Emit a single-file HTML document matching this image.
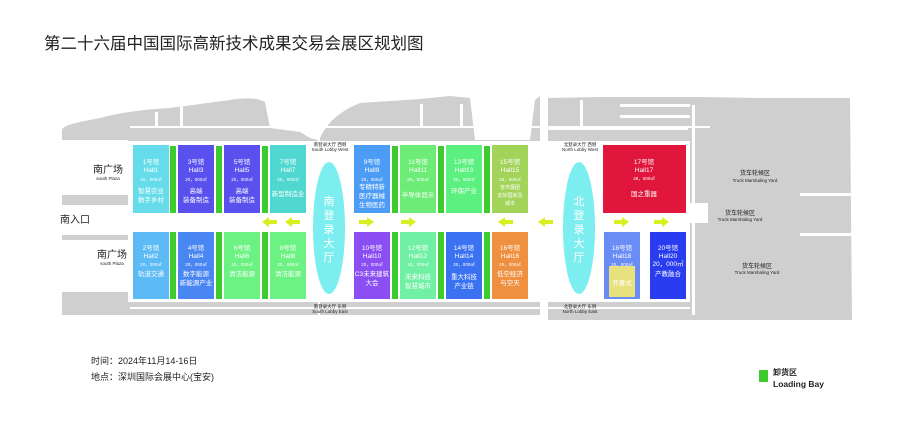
<!DOCTYPE html>
<html><head><meta charset="utf-8"><style>
html,body{margin:0;padding:0;background:#fff;}
svg{display:block;font-family:"Liberation Sans","Noto Sans CJK SC",sans-serif;}
</style></head><body>
<svg width="900" height="431" viewBox="0 0 900 431" xmlns="http://www.w3.org/2000/svg">
<rect width="900" height="431" fill="#fff"/>
<text x="44" y="49" font-size="16.5" fill="#222">第二十六届中国国际高新技术成果交易会展区规划图</text>

<g fill="#cfcfcf">
<path d="M62 130 Q62 125 90 120 L100 118 Q130 110 170 108 L230 100 Q255 96 265 102 L270 128 L300 132 L310 138 L318 140 L318 315 L62 315 Z"/>
<path d="M320 138 Q330 115 360 103 L420 99 L450 96 L470 98 L475 140 L530 140 L535 100 L540 96 L540 315 L320 315 Z"/>
<path d="M548 98 L600 97 L700 97 L760 98 L850 98 L852 320 L548 320 Z"/>
</g>
<g fill="#fff">
<rect x="128" y="141" width="562" height="161"/>
<rect x="62" y="140" width="66" height="55"/>
<rect x="62" y="240" width="66" height="52"/>
<rect x="62" y="205" width="70" height="30"/>
<rect x="540" y="95" width="8" height="230"/>
<rect x="300" y="90" width="20" height="40"/>
<rect x="688" y="203" width="20" height="20"/>
<rect x="130" y="126" width="580" height="2"/>
<rect x="130" y="307" width="560" height="2"/>
<rect x="548" y="128" width="140" height="2"/>
<rect x="692" y="105" width="3" height="210"/>
<rect x="800" y="193" width="52" height="3"/>
<rect x="800" y="233" width="52" height="3"/>
<rect x="155" y="112" width="3" height="15"/>
<rect x="270" y="104" width="3" height="22"/>
<rect x="180" y="104" width="3" height="22"/>
<rect x="580" y="100" width="3" height="28"/>
<rect x="620" y="104" width="70" height="3"/>
<rect x="620" y="115" width="70" height="3"/>
<rect x="420" y="104" width="3" height="22"/>
<rect x="460" y="104" width="3" height="22"/>
<rect x="500" y="104" width="3" height="22"/>
</g>

<ellipse cx="329" cy="228" rx="16" ry="66" fill="#7deef0"/>
<ellipse cx="579" cy="228" rx="16" ry="66" fill="#7deef0"/>
<g font-size="11" fill="#fff" text-anchor="middle">
<text x="329" y="205">南</text><text x="329" y="219">登</text><text x="329" y="233">录</text><text x="329" y="247">大</text><text x="329" y="261">厅</text>
<text x="579" y="205">北</text><text x="579" y="219">登</text><text x="579" y="233">录</text><text x="579" y="247">大</text><text x="579" y="261">厅</text>
</g>
<g font-size="4.5" fill="#222" text-anchor="middle">
<text x="330" y="146">南登录大厅 西侧</text><text x="330" y="151">South Lobby West</text>
<text x="330" y="308">南登录大厅 东侧</text><text x="330" y="313">South Lobby East</text>
<text x="580" y="146">北登录大厅 西侧</text><text x="580" y="151">North Lobby West</text>
<text x="580" y="308">北登录大厅 东侧</text><text x="580" y="313">North Lobby East</text>
</g>

<g fill="#3ccc2e">
<rect x="170" y="146" width="6" height="67"/><rect x="216" y="146" width="6" height="67"/><rect x="262" y="146" width="6" height="67"/>
<rect x="170" y="232" width="6" height="67"/><rect x="216" y="232" width="6" height="67"/><rect x="262" y="232" width="6" height="67"/>
<rect x="392" y="146" width="6" height="67"/><rect x="438" y="146" width="6" height="67"/><rect x="484" y="146" width="6" height="67"/>
<rect x="392" y="232" width="6" height="67"/><rect x="438" y="232" width="6" height="67"/><rect x="484" y="232" width="6" height="67"/>
</g>

<g>
<rect x="133" y="145" width="36" height="68" fill="#66dcea"/>
<rect x="178" y="145" width="36" height="68" fill="#5a50ee"/>
<rect x="224" y="145" width="36" height="68" fill="#5a50ee"/>
<rect x="270" y="145" width="36" height="68" fill="#50d8d0"/>
<rect x="133" y="232" width="36" height="67" fill="#5cbaf5"/>
<rect x="178" y="232" width="36" height="67" fill="#4a86f2"/>
<rect x="224" y="232" width="36" height="67" fill="#6cf282"/>
<rect x="270" y="232" width="36" height="67" fill="#6cf282"/>
<rect x="354" y="145" width="36" height="68" fill="#4c9cf6"/>
<rect x="400" y="145" width="36" height="68" fill="#6eec78"/>
<rect x="446" y="145" width="36" height="68" fill="#5cf080"/>
<rect x="492" y="145" width="36" height="68" fill="#a2d45a"/>
<rect x="354" y="232" width="36" height="67" fill="#8a4ef2"/>
<rect x="400" y="232" width="36" height="67" fill="#70f0a4"/>
<rect x="446" y="232" width="36" height="67" fill="#3a72f2"/>
<rect x="492" y="232" width="36" height="67" fill="#ee9040"/>
<rect x="603" y="145" width="83" height="68" fill="#e0163c"/>
<rect x="604" y="232" width="36" height="67" fill="#6a8cf5"/>
<rect x="650" y="232" width="36" height="67" fill="#2a3cf0"/>
<rect x="609" y="266" width="26" height="31" fill="#e8e27e"/>
</g>
<g font-size="6.5" fill="#fff" text-anchor="middle">
<text x="151" y="164">1号馆</text><text x="151" y="172">Hall1</text><text x="151" y="181" font-size="4.5">20，000㎡</text><text x="151" y="193">智慧农业</text><text x="151" y="202">数字乡村</text>
<text x="196" y="164">3号馆</text><text x="196" y="172">Hall3</text><text x="196" y="181" font-size="4.5">20，000㎡</text><text x="196" y="193">高端</text><text x="196" y="202">装备制造</text>
<text x="242" y="164">5号馆</text><text x="242" y="172">Hall5</text><text x="242" y="181" font-size="4.5">20，000㎡</text><text x="242" y="193">高端</text><text x="242" y="202">装备制造</text>
<text x="288" y="164">7号馆</text><text x="288" y="172">Hall7</text><text x="288" y="181" font-size="4.5">20，000㎡</text><text x="288" y="196">新型制造业</text>
<text x="151" y="250">2号馆</text><text x="151" y="258">Hall2</text><text x="151" y="266" font-size="4.5">20，000㎡</text><text x="151" y="276">轨道交通</text>
<text x="196" y="250">4号馆</text><text x="196" y="258">Hall4</text><text x="196" y="266" font-size="4.5">20，000㎡</text><text x="196" y="276">数字能源</text><text x="196" y="285">新能源产业</text>
<text x="242" y="250">6号馆</text><text x="242" y="258">Hall6</text><text x="242" y="266" font-size="4.5">20，000㎡</text><text x="242" y="276">清洁能源</text>
<text x="288" y="250">8号馆</text><text x="288" y="258">Hall8</text><text x="288" y="266" font-size="4.5">20，000㎡</text><text x="288" y="276">清洁能源</text>
<text x="372" y="164">9号馆</text><text x="372" y="172">Hall9</text><text x="372" y="181" font-size="4.5">20，000㎡</text><text x="372" y="189">专精特新</text><text x="372" y="198">医疗器械</text><text x="372" y="207">生物医药</text>
<text x="418" y="164">11号馆</text><text x="418" y="172">Hall11</text><text x="418" y="181" font-size="4.5">20，000㎡</text><text x="418" y="197">半导体显示</text>
<text x="464" y="164">13号馆</text><text x="464" y="172">Hall13</text><text x="464" y="181" font-size="4.5">20，000㎡</text><text x="464" y="193">环保产业</text>
<text x="510" y="164">15号馆</text><text x="510" y="172">Hall15</text><text x="510" y="181" font-size="4.5">20，000㎡</text><text x="510" y="189" font-size="5">省市展团</text><text x="510" y="197" font-size="5">友好国家及</text><text x="510" y="205" font-size="5">城市</text>
<text x="372" y="250">10号馆</text><text x="372" y="258">Hall10</text><text x="372" y="266" font-size="4.5">20，000㎡</text><text x="372" y="276">C3未来建筑</text><text x="372" y="285">大会</text>
<text x="418" y="250">12号馆</text><text x="418" y="258">Hall12</text><text x="418" y="266" font-size="4.5">20，000㎡</text><text x="418" y="279">未来科技</text><text x="418" y="288">智慧城市</text>
<text x="464" y="250">14号馆</text><text x="464" y="258">Hall14</text><text x="464" y="266" font-size="4.5">20，000㎡</text><text x="464" y="279">重大科技</text><text x="464" y="288">产业链</text>
<text x="510" y="250">16号馆</text><text x="510" y="258">Hall16</text><text x="510" y="266" font-size="4.5">20，000㎡</text><text x="510" y="276">低空经济</text><text x="510" y="285">与空天</text>
<text x="644" y="164">17号馆</text><text x="644" y="172">Hall17</text><text x="644" y="180" font-size="4.5">48，000㎡</text><text x="644" y="196">国之重器</text>
<text x="622" y="250">18号馆</text><text x="622" y="258">Hall18</text><text x="622" y="266" font-size="4.5">20，000㎡</text><text x="622" y="285">开幕式</text>
<text x="668" y="250">20号馆</text><text x="668" y="258">Hall20</text><text x="668" y="266">20，000㎡</text><text x="668" y="276">产教融合</text>
</g>

<g fill="#d8f020">
<path d="M262 222 l7 -5 v3 h8 v4 h-8 v3 z"/>
<path d="M285 222 l7 -5 v3 h8 v4 h-8 v3 z"/>
<path d="M374 222 l-7 -5 v3 h-8 v4 h8 v3 z"/>
<path d="M416 222 l-7 -5 v3 h-8 v4 h8 v3 z"/>
<path d="M498 222 l7 -5 v3 h8 v4 h-8 v3 z"/>
<path d="M538 222 l7 -5 v3 h8 v4 h-8 v3 z"/>
<path d="M629 222 l-7 -5 v3 h-8 v4 h8 v3 z"/>
<path d="M669 222 l-7 -5 v3 h-8 v4 h8 v3 z"/>
</g>

<text x="108" y="173" font-size="10" text-anchor="middle" fill="#222">南广场</text>
<text x="108" y="180" font-size="4.5" text-anchor="middle" fill="#222">south Plaza</text>
<text x="112" y="258" font-size="10" text-anchor="middle" fill="#222">南广场</text>
<text x="112" y="265" font-size="4.5" text-anchor="middle" fill="#222">south Plaza</text>
<text x="60" y="223" font-size="10" fill="#222">南入口</text>

<g font-size="6" text-anchor="middle" fill="#222">
<text x="755" y="175">货车轮候区</text><text x="755" y="182" font-size="4.5">Truck Marshaling Yard</text>
<text x="740" y="215">货车轮候区</text><text x="740" y="221" font-size="4.5">Truck Marshaling Yard</text>
<text x="757" y="268">货车轮候区</text><text x="757" y="274" font-size="4.5">Truck Marshaling Yard</text>
</g>

<text x="91" y="364" font-size="9" fill="#222">时间：2024年11月14-16日</text>
<text x="91" y="380" font-size="9" fill="#222">地点：深圳国际会展中心(宝安)</text>
<rect x="759" y="370" width="9" height="12" fill="#3ccc2e"/>
<text x="773" y="375" font-size="8" font-weight="bold" fill="#222">卸货区</text>
<text x="773" y="387" font-size="8.5" font-weight="bold" fill="#222">Loading Bay</text>
</svg>
</body></html>
